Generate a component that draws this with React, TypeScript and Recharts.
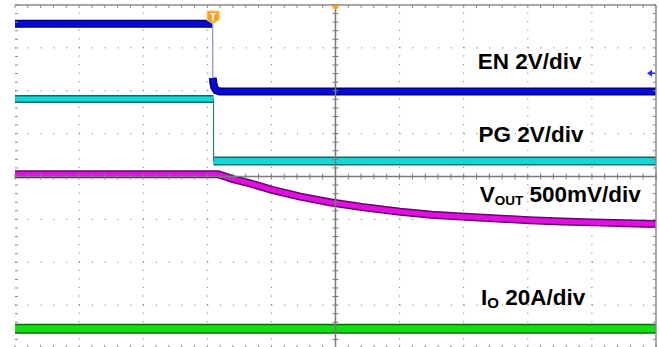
import React from 'react';
import { ComposedChart, Line, XAxis, YAxis, ReferenceLine, ReferenceDot } from 'recharts';

// Horizontal: time in screen divisions from the left edge (10 div).
// Vertical: screen divisions from the centre line (8 div, ±4).
const timeDomain: [number, number] = [0, 10];
const levelDomain: [number, number] = [-4, 4];
const majorTimeDivs = [1, 2, 3, 4, 6, 7, 8, 9];
const majorLevelDivs = [-3, -2, -1, 1, 2, 3];
const minorTimeTicks = Array.from({ length: 51 }, (_, i) => Math.round(i * 2) / 10);
const minorLevelTicks = Array.from({ length: 41 }, (_, i) => Math.round(-40 + i * 2) / 10);

// EN trace (2 V/div)
const enHigh = [{ t: 0, v: 3.56 }, { t: 3.08, v: 3.56 }];
const enEdge = [{ t: 3.083, v: 3.56 }, { t: 3.086, v: 2.3 }];
const enLow = [
  { t: 3.086, v: 2.3 }, { t: 3.095, v: 2.18 }, { t: 3.11, v: 2.08 },
  { t: 3.14, v: 2.01 }, { t: 3.2, v: 1.98 }, { t: 10, v: 1.98 },
];

// PG trace (2 V/div)
const pgHigh = [{ t: 0, v: 1.81 }, { t: 3.095, v: 1.81 }];
const pgEdge = [{ t: 3.097, v: 1.81 }, { t: 3.097, v: 0.36 }];
const pgLow = [{ t: 3.097, v: 0.36 }, { t: 10, v: 0.36 }];

// VOUT trace (500 mV/div)
const voutTrace = [
  { t: 0, v: 0.05 }, { t: 3.17, v: 0.05 }, { t: 3.28, v: 0.0 }, { t: 3.4, v: -0.06 },
  { t: 3.67, v: -0.16 }, { t: 4.01, v: -0.31 }, { t: 4.45, v: -0.47 }, { t: 4.91, v: -0.6 },
  { t: 5.41, v: -0.71 }, { t: 6.01, v: -0.82 }, { t: 6.5, v: -0.89 }, { t: 7.02, v: -0.94 },
  { t: 7.52, v: -0.98 }, { t: 8.02, v: -1.02 }, { t: 8.52, v: -1.05 }, { t: 9.02, v: -1.07 },
  { t: 9.52, v: -1.09 }, { t: 10, v: -1.11 },
];

// IO trace (20 A/div)
const ioTrace = [{ t: 0, v: -3.55 }, { t: 10, v: -3.55 }];

// Channel annotations
const channelLabels = [
  { t: 7.22, v: 2.51, name: 'EN', sub: '', scale: ' 2V/div' },
  { t: 7.23, v: 0.81, name: 'PG', sub: '', scale: ' 2V/div' },
  { t: 7.25, v: -0.6, name: 'V', sub: 'OUT', scale: ' 500mV/div' },
  { t: 7.27, v: -3.0, name: 'I', sub: 'O', scale: ' 20A/div' },
];

const triggerTime = 3.09;
const triggerLevel = 2.41;

const GRID = '#8a8a8a';
const FONT = 'Arial, "Liberation Sans", sans-serif';

type Seg = { data: { t: number; v: number }[]; edge: string; core: string; w: number };

const segments: Seg[] = [
  { data: enHigh, edge: '#00007a', core: '#0808d8', w: 6 },
  { data: enLow, edge: '#00007a', core: '#0808d8', w: 6 },
  { data: pgHigh, edge: '#0c6a6a', core: '#10d8d8', w: 6 },
  { data: pgLow, edge: '#0c6a6a', core: '#10d8d8', w: 7 },
  { data: voutTrace, edge: '#6a0070', core: '#e010e0', w: 6 },
  { data: ioTrace, edge: '#0a6a0a', core: '#10e010', w: 8 },
];

const tick = (dx1: number, dy1: number, dx2: number, dy2: number, color: string) =>
  (p: any) => <line x1={p.cx + dx1} y1={p.cy + dy1} x2={p.cx + dx2} y2={p.cy + dy2} stroke={color} strokeWidth={1} />;

export default function App() {
  return (
    <div style={{ position: 'absolute', left: 0, top: 0, width: 659, height: 347, overflow: 'hidden', background: '#fff' }}>
      <ComposedChart width={659} height={350} margin={{ top: 5, right: 3, bottom: 2, left: 15 }}>
        <XAxis dataKey="t" type="number" domain={timeDomain} hide allowDataOverflow />
        <YAxis type="number" domain={levelDomain} hide allowDataOverflow />

        {/* dotted graticule */}
        {majorTimeDivs.map((x) => (
          <ReferenceLine key={'gx' + x} x={x} stroke="#6e6e6e" strokeWidth={1} strokeDasharray="1 7.575" />
        ))}
        {majorLevelDivs.map((y) => (
          <ReferenceLine key={'gy' + y} y={y} stroke="#6e6e6e" strokeWidth={1} strokeDasharray="1 11.82" />
        ))}

        {segments.map((s, i) => (
          <Line key={'e' + i} data={s.data} dataKey="v" type="linear" stroke={s.edge} strokeWidth={s.w + 2}
            dot={false} activeDot={false} isAnimationActive={false} />
        ))}
        {segments.map((s, i) => (
          <Line key={'c' + i} data={s.data} dataKey="v" type="linear" stroke={s.core} strokeWidth={s.w - 1}
            dot={false} activeDot={false} isAnimationActive={false} />
        ))}
        <Line data={enEdge} dataKey="v" type="linear" stroke="#8c8cc4" strokeWidth={1.2}
          dot={false} activeDot={false} isAnimationActive={false} />
        <Line data={pgEdge} dataKey="v" type="linear" stroke="#2f7a7a" strokeWidth={1.2}
          dot={false} activeDot={false} isAnimationActive={false} />

        {/* frame: top and right borders */}
        <ReferenceLine y={4} stroke={GRID} strokeWidth={1.5} />
        <ReferenceLine x={10} stroke={GRID} strokeWidth={1.5} />
        {minorTimeTicks.map((x) => (
          <ReferenceDot key={'bt' + x} x={x} y={4} r={0} shape={tick(0, 0, 0, 3, GRID)} />
        ))}
        {minorTimeTicks.map((x) => (
          <ReferenceDot key={'bb' + x} x={x} y={-4} r={0} shape={tick(0, -3, 0, 0, GRID)} />
        ))}
        {minorLevelTicks.map((y) => (
          <ReferenceDot key={'bl' + y} x={0} y={y} r={0} shape={tick(0, 0, 3, 0, GRID)} />
        ))}
        {minorLevelTicks.map((y) => (
          <ReferenceDot key={'br' + y} x={10} y={y} r={0} shape={tick(-3, 0, 0, 0, GRID)} />
        ))}

        {/* centre cross with minor ticks */}
        <ReferenceLine x={5} stroke="#7a7a7a" strokeWidth={1.5} />
        <ReferenceLine y={0} stroke="#7a7a7a" strokeWidth={1.5} />
        {minorTimeTicks.map((x) => (
          <ReferenceDot key={'tx' + x} x={x} y={0} r={0} shape={tick(0, -3, 0, 3, '#7a7a7a')} />
        ))}
        {minorLevelTicks.map((y) => (
          <ReferenceDot key={'ty' + y} x={5} y={y} r={0} shape={tick(-3, 0, 3, 0, '#7a7a7a')} />
        ))}

        {channelLabels.map((l) => (
          <ReferenceDot key={'lab' + l.name} x={l.t} y={l.v} r={0}
            shape={(p: any) => (
              <text x={p.cx} y={p.cy} fontFamily={FONT} fontWeight="bold" fontSize={22.5} fill="#000">
                <tspan>{l.name}</tspan>
                {l.sub ? <tspan fontSize={l.sub === 'O' ? 15 : 13.5} dy={3}>{l.sub}</tspan> : null}
                <tspan dy={l.sub ? -3 : 0}>{l.scale}</tspan>
              </text>
            )} />
        ))}

        {/* trigger position marker */}
        <ReferenceDot x={triggerTime} y={4} r={0}
          shape={(p: any) => (
            <g>
              <path d={`M${p.cx - 6},${p.cy + 6} h12 v9 l-6,3.5 l-6,-3.5 z`} fill="#f5a01e" stroke="#fcc97a" strokeWidth={1.2} />
              <text x={p.cx} y={p.cy + 16} textAnchor="middle" fontFamily={FONT} fontWeight="bold" fontSize={10} fill="#fff">T</text>
            </g>
          )} />
        {/* horizontal position marker */}
        <ReferenceDot x={5} y={4} r={0}
          shape={(p: any) => (
            <path d={`M${p.cx - 4.5},${p.cy} L${p.cx + 4.5},${p.cy} L${p.cx},${p.cy + 5.5} z`} fill="#f5a01e" />
          )} />
        {/* trigger level marker */}
        <ReferenceDot x={10} y={triggerLevel} r={0}
          shape={(p: any) => (
            <g>
              <path d={`M${p.cx - 9},${p.cy} L${p.cx - 4},${p.cy - 3.5} L${p.cx - 4},${p.cy + 3.5} z`} fill="#2a2aff" />
              <line x1={p.cx - 5} x2={p.cx - 1} y1={p.cy} y2={p.cy} stroke="#2a2aff" strokeWidth={1.5} />
            </g>
          )} />
      </ComposedChart>
    </div>
  );
}
